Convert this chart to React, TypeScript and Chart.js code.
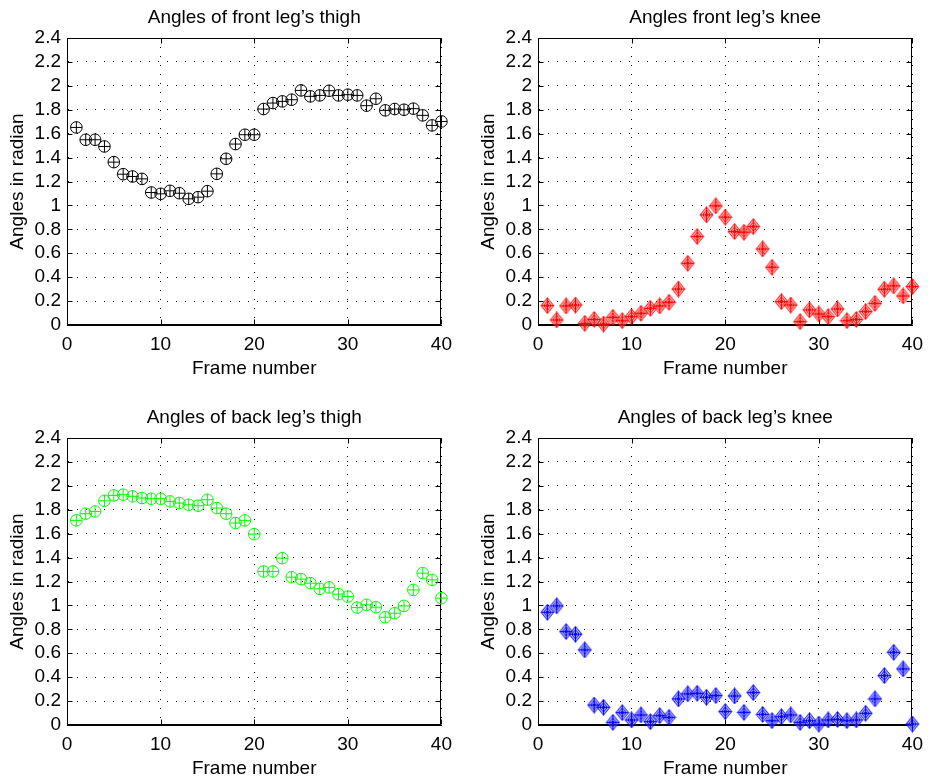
import React, { useEffect, useRef } from 'react';
import { Chart, registerables } from 'chart.js';

Chart.register(...registerables);

const FONT = '"Liberation Sans", Arial, Helvetica, sans-serif';

const frames = [1, 2, 3, 4, 5, 6, 7, 8, 9, 10, 11, 12, 13, 14, 15, 16, 17, 18, 19, 20,
  21, 22, 23, 24, 25, 26, 27, 28, 29, 30, 31, 32, 33, 34, 35, 36, 37, 38, 39, 40];

const frontThigh = [1.652, 1.549, 1.549, 1.493, 1.362, 1.261, 1.242, 1.222, 1.108, 1.097,
  1.122, 1.102, 1.055, 1.069, 1.119, 1.264, 1.39, 1.513, 1.591, 1.591,
  1.806, 1.856, 1.87, 1.884, 1.962, 1.912, 1.92, 1.959, 1.92, 1.926,
  1.92, 1.834, 1.892, 1.795, 1.806, 1.8, 1.809, 1.753, 1.669, 1.702];

const frontKnee = [0.162, 0.042, 0.159, 0.167, 0.014, 0.047, 0.008, 0.064, 0.036, 0.07,
  0.098, 0.14, 0.159, 0.19, 0.301, 0.516, 0.74, 0.921, 0.996, 0.902,
  0.781, 0.776, 0.823, 0.636, 0.483, 0.195, 0.167, 0.028, 0.126, 0.092,
  0.07, 0.134, 0.036, 0.047, 0.112, 0.181, 0.299, 0.327, 0.243, 0.321];

const backThigh = [1.711, 1.767, 1.786, 1.875, 1.92, 1.926, 1.912, 1.898, 1.892, 1.892,
  1.87, 1.856, 1.842, 1.834, 1.884, 1.814, 1.767, 1.689, 1.711, 1.596,
  1.284, 1.284, 1.395, 1.236, 1.22, 1.186, 1.139, 1.15, 1.094, 1.074,
  0.982, 1.005, 0.985, 0.901, 0.935, 0.996, 1.13, 1.27, 1.214, 1.061];

const backKnee = [0.943, 0.996, 0.781, 0.759, 0.628, 0.167, 0.148, 0.022, 0.103, 0.042,
  0.084, 0.028, 0.078, 0.064, 0.218, 0.26, 0.265, 0.232, 0.246, 0.112,
  0.243, 0.106, 0.271, 0.089, 0.036, 0.07, 0.084, 0.022, 0.036, 0.008,
  0.042, 0.047, 0.036, 0.042, 0.098, 0.218, 0.413, 0.608, 0.469, 0.008];

const xTicks = [0, 10, 20, 30, 40];
const yTicks = [0, 0.2, 0.4, 0.6, 0.8, 1, 1.2, 1.4, 1.6, 1.8, 2, 2.2, 2.4];
const yTickLabels = ['0', '0.2', '0.4', '0.6', '0.8', '1', '1.2', '1.4', '1.6', '1.8', '2', '2.2', '2.4'];

const titles = [
  'Angles of front leg\u2019s thigh',
  'Angles front leg\u2019s knee',
  'Angles of back leg\u2019s thigh',
  'Angles of back leg\u2019s knee',
];
const xLabel = 'Frame number';
const yLabel = 'Angles in radian';

function makeKneeMarker(color: string, tint: string): HTMLCanvasElement {
  const c = document.createElement('canvas');
  c.width = 15;
  c.height = 17;
  const g = c.getContext('2d')!;
  const cx = 7.5, cy = 8.5, a = 6.4, b = 7.8;
  g.lineWidth = 1;
  g.strokeStyle = color;
  g.fillStyle = tint;
  g.beginPath();
  g.moveTo(cx, cy - b); g.lineTo(cx + a, cy); g.lineTo(cx, cy + b); g.lineTo(cx - a, cy);
  g.closePath();
  g.fill();
  g.stroke();
  const s = 0.6;
  g.beginPath();
  g.moveTo(cx, cy - b * s); g.lineTo(cx + a * s, cy); g.lineTo(cx, cy + b * s); g.lineTo(cx - a * s, cy);
  g.closePath();
  g.stroke();
  g.beginPath();
  g.moveTo(cx, cy - b); g.lineTo(cx, cy + b);
  g.moveTo(cx - a, cy); g.lineTo(cx + a, cy);
  g.stroke();
  g.fillStyle = color;
  g.beginPath();
  g.arc(cx, cy, 1.8, 0, Math.PI * 2);
  g.fill();
  return c;
}

const boxPlugin = {
  id: 'matlabBox',
  beforeDatasetsDraw(chart: any) {
    const { ctx, chartArea } = chart;
    const { left, right, top, bottom } = chartArea;
    const xs = chart.scales.x;
    const ys = chart.scales.y;
    const L = Math.round(left) + 0.5, R = Math.round(right) - 0.5;
    const T = Math.round(top) + 0.5, B = Math.round(bottom) - 0.5;
    ctx.save();
    ctx.strokeStyle = '#000';
    ctx.lineWidth = 1;
    ctx.setLineDash([]);
    ctx.strokeRect(L, T, R - L, B - T);
    ctx.beginPath();
    xs.ticks.forEach((t: any) => {
      const px = Math.round(xs.getPixelForValue(t.value)) + 0.5;
      ctx.moveTo(px, B); ctx.lineTo(px, B - 5);
      ctx.moveTo(px, T); ctx.lineTo(px, T + 5);
    });
    ys.ticks.forEach((t: any) => {
      const py = Math.round(ys.getPixelForValue(t.value)) + 0.5;
      ctx.moveTo(L, py); ctx.lineTo(L + 5, py);
      ctx.moveTo(R, py); ctx.lineTo(R - 5, py);
    });
    ctx.stroke();
    ctx.restore();
  },
};

type PanelProps = {
  title: string;
  values: number[];
  color: string;
  kind: 'thigh' | 'knee';
  tint: string;
  left: number;
  top: number;
};

function Panel({ title, values, color, kind, tint, left, top }: PanelProps) {
  const ref = useRef<HTMLCanvasElement | null>(null);
  useEffect(() => {
    if (!ref.current) return;
    const pts = frames.map((f, i) => ({ x: f, y: values[i] }));
    const datasets: any[] = [];
    if (kind === 'thigh') {
      datasets.push({
        data: pts, showLine: false, pointStyle: 'circle', pointRadius: 5.8,
        pointBorderWidth: 1, pointBorderColor: color, pointBackgroundColor: 'rgba(0,0,0,0)', clip: false,
      });
      datasets.push({
        data: pts, showLine: false, pointStyle: 'cross', pointRadius: 5.8,
        pointBorderWidth: 1, pointBorderColor: color, clip: false,
      });
    } else {
      datasets.push({
        data: pts, showLine: false, pointStyle: makeKneeMarker(color, tint), pointRadius: 6,
        clip: false,
      });
    }
    const textFont = { family: FONT, size: 19, weight: 'normal' as const };
    const chart = new Chart(ref.current, {
      type: 'scatter',
      data: { datasets },
      plugins: [boxPlugin],
      options: {
        animation: false,
        responsive: false,
        events: [],
        layout: { padding: { left: 0, right: 17, top: 0, bottom: 0 } },
        plugins: {
          legend: { display: false },
          tooltip: { enabled: false },
          title: {
            display: true, text: title, color: '#000', font: textFont, fullSize: false,
            padding: { top: 6.5, bottom: 8.7 },
          },
        },
        scales: {
          x: {
            type: 'linear', min: 0, max: 40,
            afterBuildTicks: (s: any) => { s.ticks = xTicks.map((v) => ({ value: v })); },
            afterFit: (s: any) => { s.height = 63; },
            ticks: { autoSkip: false, maxRotation: 0, padding: 8, color: '#000', font: textFont },
            grid: { color: '#000', lineWidth: 1, drawTicks: false },
            border: { display: true, color: '#000', dash: [1, 8] },
            title: { display: true, text: xLabel, color: '#000', font: textFont, padding: { top: 0, bottom: 8 } },
          },
          y: {
            type: 'linear', min: 0, max: 2.4,
            afterBuildTicks: (s: any) => { s.ticks = yTicks.map((v) => ({ value: v })); },
            afterFit: (s: any) => { s.width = 67; },
            ticks: {
              autoSkip: false, padding: 6, color: '#000', font: textFont,
              callback: (_v: any, i: number) => yTickLabels[i],
            },
            grid: { color: '#000', lineWidth: 1, drawTicks: false },
            border: { display: true, color: '#000', dash: [1, 8] },
            title: { display: true, text: yLabel, color: '#000', font: textFont, padding: { top: 6, bottom: 0 } },
          },
        },
      } as any,
    });
    return () => chart.destroy();
  }, [title, values, color, kind, tint]);
  return (
    <canvas
      ref={ref}
      width={460}
      height={388}
      style={{ position: 'absolute', left, top, width: 460, height: 388 }}
    />
  );
}

export default function App() {
  return (
    <div style={{ position: 'fixed', left: 0, top: 0, width: 930, height: 776, overflow: 'hidden', background: '#fff' }}>
      <Panel title={titles[0]} values={frontThigh} color="#000000" tint="rgba(0,0,0,0)" kind="thigh" left={0} top={0} />
      <Panel title={titles[1]} values={frontKnee} color="#ff0000" tint="rgba(255,120,120,0.45)" kind="knee" left={471} top={0} />
      <Panel title={titles[2]} values={backThigh} color="#00ff00" tint="rgba(0,0,0,0)" kind="thigh" left={0} top={400} />
      <Panel title={titles[3]} values={backKnee} color="#0000ff" tint="rgba(120,120,255,0.45)" kind="knee" left={471} top={400} />
    </div>
  );
}
